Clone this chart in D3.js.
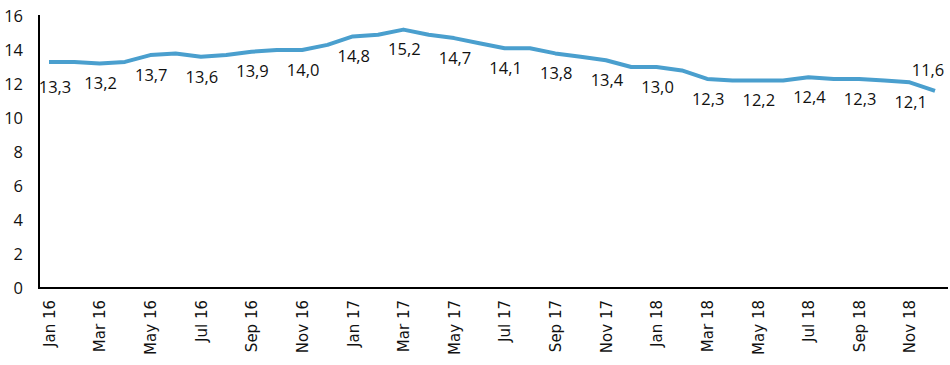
<!DOCTYPE html>
<html>
<head>
<meta charset="utf-8">
<script src="https://cdn.jsdelivr.net/npm/d3@7"></script>
<style>
  html, body { margin: 0; padding: 0; background: #fff; }
  svg { display: block; }
</style>
</head>
<body>
<svg id="chart" width="950" height="365"></svg>
<script>
const months = [
  "Jan 16","Feb 16","Mar 16","Apr 16","May 16","Jun 16","Jul 16","Aug 16","Sep 16","Oct 16","Nov 16","Dec 16",
  "Jan 17","Feb 17","Mar 17","Apr 17","May 17","Jun 17","Jul 17","Aug 17","Sep 17","Oct 17","Nov 17","Dec 17",
  "Jan 18","Feb 18","Mar 18","Apr 18","May 18","Jun 18","Jul 18","Aug 18","Sep 18","Oct 18","Nov 18","Dec 18"
];
const values = [
  13.3, 13.3, 13.2, 13.3, 13.7, 13.8, 13.6, 13.7, 13.9, 14.0, 14.0, 14.3,
  14.8, 14.9, 15.2, 14.9, 14.7, 14.4, 14.1, 14.1, 13.8, 13.6, 13.4, 13.0,
  13.0, 12.8, 12.3, 12.2, 12.2, 12.2, 12.4, 12.3, 12.3, 12.2, 12.1, 11.6
];
const yTicks = [0, 2, 4, 6, 8, 10, 12, 14, 16];
const xTickLabels = months.filter((m, i) => i % 2 === 0);
const labelledMonths = xTickLabels.concat(["Dec 18"]);

const svg = d3.select("#chart");
const x = d3.scalePoint().domain(months).range([49, 935]);
const y = d3.scaleLinear().domain([0, 16]).range([288, 16]);

const fmt = v => v.toFixed(1).replace(".", ",");

// Y axis (labels only + line)
const yAxis = svg.append("g")
  .attr("transform", "translate(39,0)")
  .call(d3.axisLeft(y).tickValues(yTicks).tickSize(0).tickPadding(16).tickFormat(d => d));
yAxis.select(".domain").attr("stroke", "#000").attr("stroke-width", 2).attr("d", `M0,${y(16) - 1}V${y(0)}`);
yAxis.selectAll("text")
  .attr("font-family", "'Open Sans', sans-serif")
  .attr("font-size", 16.5)
  .attr("fill", "#111");

// X axis
const xAxis = svg.append("g")
  .attr("transform", `translate(0,${y(0)})`)
  .call(d3.axisBottom(x).tickValues(xTickLabels).tickSize(0));
xAxis.select(".domain").attr("stroke", "#000").attr("stroke-width", 2).attr("d", "M38,0H948");
xAxis.selectAll("text")
  .attr("font-family", "'DejaVu Sans', sans-serif")
  .attr("font-size", 15)
  .attr("fill", "#111")
  .attr("text-anchor", "end")
  .attr("dy", "0.35em")
  .attr("transform", "translate(0,12) rotate(-90)")
  .attr("x", 0)
  .attr("y", 0);

// Line
const line = d3.line()
  .x((d, i) => x(months[i]))
  .y(d => y(d));
svg.append("path")
  .datum(values)
  .attr("fill", "none")
  .attr("stroke", "#4a9fce")
  .attr("stroke-width", 4)
  .attr("stroke-linejoin", "round")
  .attr("d", line);

// Data labels
const labelData = months.map((m, i) => ({ m, v: values[i], i })).filter(d => labelledMonths.includes(d.m));
svg.append("g").selectAll("text")
  .data(labelData)
  .join("text")
  .attr("x", d => x(d.m) + (d.i === 0 ? 6 : (d.m === "Dec 18" ? -7 : 1)))
  .attr("y", d => y(d.v) + (d.m === "Dec 18" ? -21 : (d.i === 0 ? 25 : 20)))
  .attr("dy", "0.35em")
  .attr("text-anchor", "middle")
  .attr("font-family", "'Open Sans', sans-serif")
  .attr("font-size", 16.5)
  .attr("fill", "#111")
  .text(d => fmt(d.v));
</script>
</body>
</html>
